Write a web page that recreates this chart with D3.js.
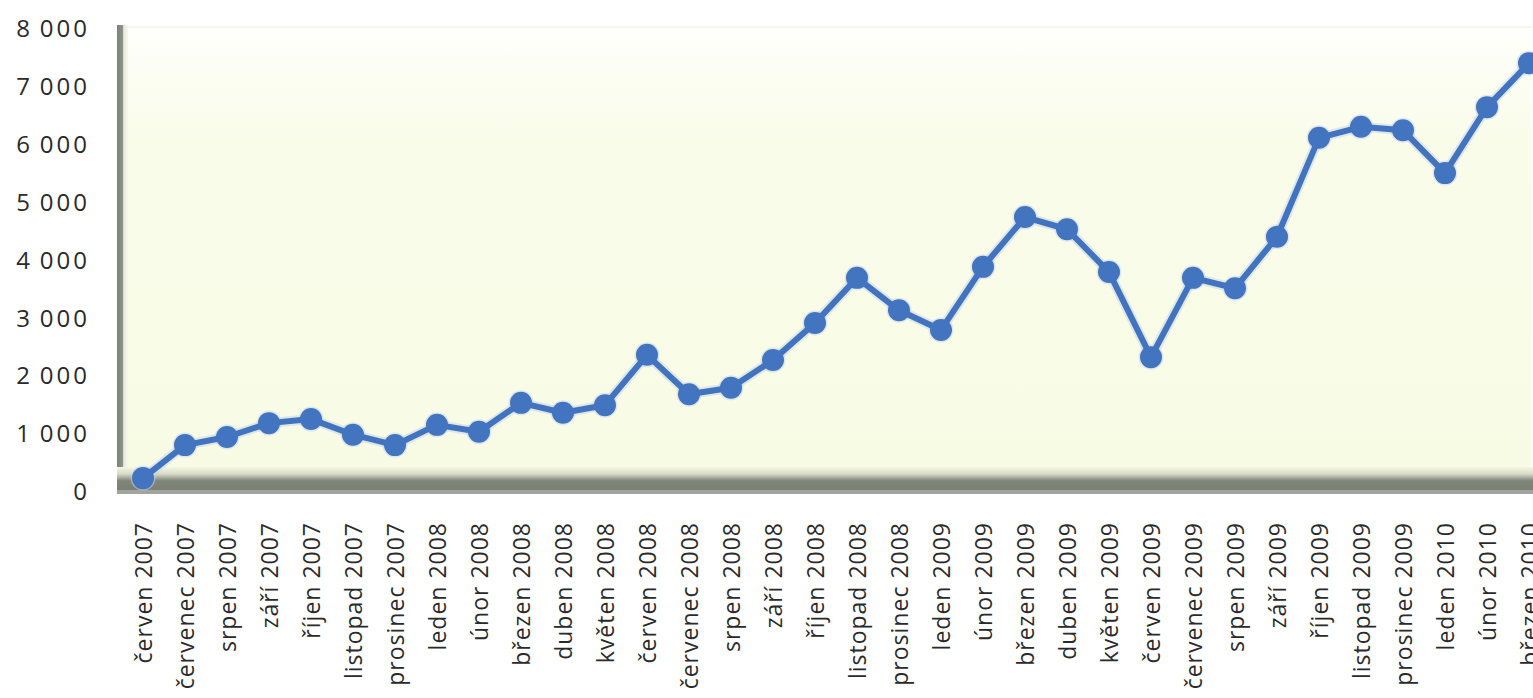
<!DOCTYPE html>
<html>
<head>
<meta charset="utf-8">
<script src="https://cdn.jsdelivr.net/npm/d3@7"></script>
<style>
  body { margin: 0; background: #fff; }
  svg { display: block; }
  .tick text { font-family: "Open Sans", sans-serif; fill: #2a2a2a; }
</style>
</head>
<body>
<svg width="1533" height="698"></svg>
<script>
const months = [
    "červen 2007", "červenec 2007", "srpen 2007", "září 2007", "říjen 2007", "listopad 2007", "prosinec 2007",
    "leden 2008", "únor 2008", "březen 2008", "duben 2008", "květen 2008", "červen 2008", "červenec 2008",
    "srpen 2008", "září 2008", "říjen 2008", "listopad 2008", "prosinec 2008",
    "leden 2009", "únor 2009", "březen 2009", "duben 2009", "květen 2009", "červen 2009", "červenec 2009",
    "srpen 2009", "září 2009", "říjen 2009", "listopad 2009", "prosinec 2009",
    "leden 2010", "únor 2010", "březen 2010"
];
const values = [
    240, 810, 950, 1190, 1260, 990, 810,
    1160, 1040, 1540, 1370, 1500, 2370, 1690,
    1800, 2280, 2920, 3700, 3140,
    2800, 3890, 4750, 4540, 3800, 2330, 3700,
    3520, 4410, 6120, 6310, 6250,
    5510, 6650, 7410
];
const yTicks = [0, 1000, 2000, 3000, 4000, 5000, 6000, 7000, 8000];

const svg = d3.select("svg");
const plotL = 120, plotR = 1533, plotT = 27, floorY = 492;

const x = d3.scalePoint().domain(months).range([143, 1529]);
const y = d3.scaleLinear().domain([0, 8000]).range([floorY, 29]);

// gradients for the walls
const defs = svg.append("defs");
const wall = defs.append("linearGradient").attr("id", "wall")
    .attr("x1", 0).attr("y1", 0).attr("x2", 0).attr("y2", 1);
wall.append("stop").attr("offset", 0).attr("stop-color", "#fefffb");
wall.append("stop").attr("offset", 0.25).attr("stop-color", "#f9fce9");
wall.append("stop").attr("offset", 1).attr("stop-color", "#f8fbe4");

const floor = defs.append("linearGradient").attr("id", "floor")
    .attr("x1", 0).attr("y1", 0).attr("x2", 0).attr("y2", 1);
floor.append("stop").attr("offset", 0).attr("stop-color", "#f5f7e4");
floor.append("stop").attr("offset", 0.3).attr("stop-color", "#d8dbc8");
floor.append("stop").attr("offset", 0.6).attr("stop-color", "#80857a");
floor.append("stop").attr("offset", 1).attr("stop-color", "#7b8074");

const side = defs.append("linearGradient").attr("id", "side")
    .attr("x1", 0).attr("y1", 0).attr("x2", 1).attr("y2", 0);
side.append("stop").attr("offset", 0).attr("stop-color", "#7d8278");
side.append("stop").attr("offset", 0.5).attr("stop-color", "#8e9288");
side.append("stop").attr("offset", 0.6).attr("stop-color", "#e4e7da");
side.append("stop").attr("offset", 1).attr("stop-color", "#f6f8ec");

// back wall
svg.append("rect")
    .attr("x", plotL + 8).attr("y", plotT)
    .attr("width", plotR - plotL - 10).attr("height", floorY - plotT)
    .attr("fill", "url(#wall)");
svg.append("line")
    .attr("x1", plotL + 8).attr("x2", plotR - 2)
    .attr("y1", plotT).attr("y2", plotT)
    .attr("stroke", "#ecece4");

// left wall
svg.append("rect")
    .attr("x", plotL - 3).attr("y", plotT - 2)
    .attr("width", 11).attr("height", floorY - plotT + 2)
    .attr("fill", "url(#side)");

// floor
svg.append("rect")
    .attr("x", plotL - 3).attr("y", 467)
    .attr("width", plotR - plotL + 3).attr("height", 23)
    .attr("fill", "url(#floor)");
svg.append("rect")
    .attr("x", plotL - 3).attr("y", 490)
    .attr("width", plotR - plotL + 3).attr("height", 4)
    .attr("fill", "#a2a49e");

// y axis
svg.append("g")
    .attr("transform", `translate(${plotL},0)`)
    .call(d3.axisLeft(y).tickValues(yTicks).tickSize(0).tickPadding(30)
        .tickFormat(d => d3.format(",")(d).replace(/,/g, "\u2009")))
    .call(g => g.select(".domain").remove())
    .selectAll("text")
    .attr("font-size", 24)
    .attr("letter-spacing", 3);

// x axis
svg.append("g")
    .attr("transform", `translate(0,${floorY})`)
    .call(d3.axisBottom(x).tickSize(0))
    .call(g => g.select(".domain").remove())
    .selectAll("text")
    .attr("font-size", 23)
    .attr("letter-spacing", 1)
    .attr("text-anchor", "end")
    .attr("y", 0)
    .attr("dy", "0.35em")
    .attr("transform", "translate(0,30) rotate(-90)");

// series
const data = months.map((m, i) => ({m, v: values[i]}));
const line = d3.line().x(d => x(d.m)).y(d => y(d.v));

svg.append("path").datum(data)
    .attr("fill", "none")
    .attr("stroke", "#c3d4ec")
    .attr("stroke-opacity", 0.5)
    .attr("stroke-width", 10)
    .attr("d", line);
svg.selectAll(".halo").data(data).join("circle")
    .attr("class", "halo")
    .attr("cx", d => x(d.m)).attr("cy", d => y(d.v))
    .attr("r", 12.5)
    .attr("fill", "#c3d4ec").attr("fill-opacity", 0.5);

svg.append("path").datum(data)
    .attr("fill", "none")
    .attr("stroke", "#4273be")
    .attr("stroke-width", 6)
    .attr("stroke-linejoin", "round")
    .attr("d", line);
svg.selectAll(".dot").data(data).join("circle")
    .attr("class", "dot")
    .attr("cx", d => x(d.m)).attr("cy", d => y(d.v))
    .attr("r", 11)
    .attr("fill", "#4274c0");
</script>
</body>
</html>
